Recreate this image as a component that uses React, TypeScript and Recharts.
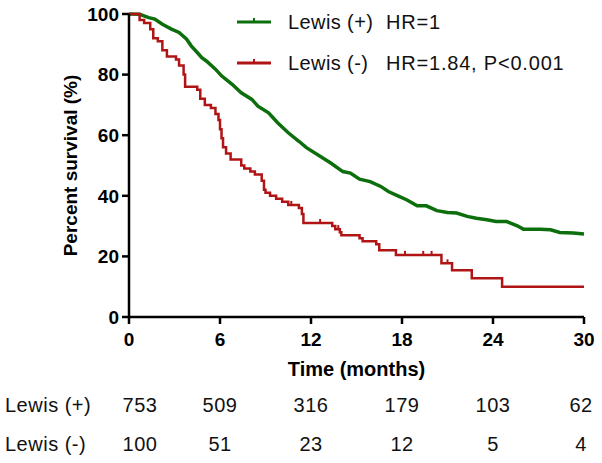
import React from 'react'
import { LineChart, Line, XAxis, YAxis } from 'recharts'

// Lewis (+) curve
const posTimes = [0, 0.7, 1.3, 1.7, 2.2, 2.8, 3.3, 3.8, 4.1, 4.5, 4.8, 5.1, 5.7, 6.1, 6.8, 7.4, 8.1, 8.5, 9.2, 9.8, 10.5, 11.2, 11.7, 13.3, 14.1, 14.6, 15.2, 15.9, 16.6, 17.1, 17.8, 18.3, 19.0, 19.6, 20.3, 21.0, 21.6, 22.3, 22.9, 23.6, 24.2, 24.9, 25.6, 26.0, 27.1, 27.8, 28.4, 29.3, 30]
const posSurv = [100, 99.9, 98.8, 98.3, 96.6, 95, 93.9, 91.7, 89.5, 87.3, 85.6, 84.5, 81.8, 79.6, 76.8, 74, 71.8, 69.6, 67.4, 64.1, 60.8, 58, 55.9, 50.8, 48, 47.5, 45.5, 44.7, 43.1, 41.4, 39.8, 38.7, 36.7, 36.7, 35.1, 34.5, 34.3, 33.2, 32.6, 32.1, 31.5, 31.5, 30.1, 29, 29, 28.8, 27.9, 27.7, 27.4]

// Lewis (-) step curve
const negTimes = [0, 0.7, 1.0, 1.4, 1.6, 1.9, 2.2, 2.5, 3.1, 3.3, 3.6, 3.7, 4.5, 4.7, 5.0, 5.4, 5.7, 5.9, 6.0, 6.1, 6.2, 6.4, 6.7, 7.4, 7.6, 8.0, 8.3, 8.75, 8.9, 9.0, 9.3, 9.7, 10.1, 10.5, 11.2, 11.4, 11.5, 13.4, 13.6, 13.9, 14.0, 15.2, 15.4, 16.3, 16.5, 17.6, 20.6, 21.3, 22.6, 24.6, 30]
const negSurv = [100, 98, 97, 95, 92, 91, 88, 86, 85, 83, 80, 76, 75, 72, 70, 69, 67, 65, 62, 59, 56, 54, 52, 50, 49, 48, 47, 45, 42, 41, 40, 39, 38, 37, 36, 34, 31, 30, 29, 28, 27, 26, 25, 24, 22, 20.5, 17.7, 15.4, 12.8, 10, 10]
const negCensored = [10.7, 12.6, 13.8, 18.2, 19.4, 19.95, 21.0]

const xTicks = [0, 6, 12, 18, 24, 30]
const yTicks = [0, 20, 40, 60, 80, 100]
const riskPos = [753, 509, 316, 179, 103, 62]
const riskNeg = [100, 51, 23, 12, 5, 4]

const GREEN = '#0c6e0c'
const RED = '#b01414'

const posData = posTimes.map((t, i) => ({ t, s: posSurv[i] }))

const survAt = (t: number) => {
  let s = negSurv[0]
  negTimes.forEach((tt, i) => {
    if (tt <= t) s = negSurv[i]
  })
  return s
}

const negData = [
  ...negTimes.map((t, i) => ({ t, s: negSurv[i], c: false })),
  ...negCensored.map((t) => ({ t, s: survAt(t), c: true })),
].sort((a, b) => a.t - b.t)

const FONT = '"Liberation Sans", Arial, sans-serif'

const censorDot = (color: string) => (p: any) => {
  if (!p.payload || !p.payload.c) return <g key={`n-${p.index}`} />
  return (
    <line
      key={`c-${p.index}`}
      x1={p.cx}
      x2={p.cx}
      y1={p.cy - 4}
      y2={p.cy}
      stroke={color}
      strokeWidth={2}
    />
  )
}

const legendItems = [
  { name: 'Lewis (+)', stat: 'HR=1', color: GREEN },
  { name: 'Lewis (-)', stat: 'HR=1.84, P<0.001', color: RED },
]

// x pixel for a month on the risk table, same range as the plot
const xPix = (t: number) => 129 + (t / 30) * 455

export default function App() {
  return (
    <div style={{ position: 'absolute', left: 0, top: 0, width: 602, height: 463, background: '#fff', fontFamily: FONT }}>
      <LineChart width={602} height={463} margin={{ top: 14, right: 18, left: 69, bottom: 116 }}>
        <XAxis
          type="number"
          dataKey="t"
          domain={[0, 30]}
          ticks={xTicks}
          allowDuplicatedCategory={false}
          height={30}
          axisLine={{ stroke: '#000', strokeWidth: 2.5 }}
          tickLine={{ stroke: '#000', strokeWidth: 2.5 }}
          tickSize={7}
          tickMargin={9}
          tick={{ fill: '#000', fontSize: 19, fontWeight: 'bold', fontFamily: FONT }}
          label={{
            value: 'Time (months)',
            position: 'bottom',
            offset: 15,
            fill: '#000',
            fontSize: 20,
            fontWeight: 'bold',
            fontFamily: FONT,
          }}
        />
        <YAxis
          type="number"
          domain={[0, 100]}
          ticks={yTicks}
          width={60}
          axisLine={{ stroke: '#000', strokeWidth: 2.5 }}
          tickLine={{ stroke: '#000', strokeWidth: 2.5 }}
          tickSize={7}
          tickMargin={3}
          tick={{ fill: '#000', fontSize: 19, fontWeight: 'bold', fontFamily: FONT }}
          label={(props: any) => {
            const vb = props.viewBox
            const cx = vb.x + 1
            const cy = vb.y + vb.height / 2
            return (
              <text
                x={cx}
                y={cy}
                transform={`rotate(-90 ${cx} ${cy})`}
                textAnchor="middle"
                dominantBaseline="central"
                fill="#000"
                fontSize={19}
                fontWeight="bold"
                fontFamily={FONT}
              >
                Percent survival (%)
              </text>
            )
          }}
        />
        <Line
          data={posData}
          dataKey="s"
          type="linear"
          stroke={GREEN}
          strokeWidth={3.5}
          dot={false}
          isAnimationActive={false}
        />
        <Line
          data={negData}
          dataKey="s"
          type="stepAfter"
          stroke={RED}
          strokeWidth={2.5}
          dot={censorDot(RED)}
          isAnimationActive={false}
        />
      </LineChart>

      {legendItems.map((it, i) => (
        <div key={it.name} style={{ position: 'absolute', left: 236, top: 8 + i * 41, height: 28, display: 'flex', alignItems: 'center', fontSize: 20, letterSpacing: 0.4, color: '#111' }}>
          <svg width={36} height={28} style={{ marginRight: 16 }}>
            <line x1={1} x2={35} y1={14} y2={14} stroke={it.color} strokeWidth={3} />
            <line x1={18} x2={18} y1={10} y2={14} stroke={it.color} strokeWidth={2} />
          </svg>
          <span style={{ width: 98 }}>{it.name}</span>
          <span style={{ letterSpacing: 0.8 }}>{it.stat}</span>
        </div>
      ))}

      {[
        { name: 'Lewis (+)', vals: riskPos, top: 394 },
        { name: 'Lewis (-)', vals: riskNeg, top: 433 },
      ].map((row) => (
        <div key={row.name}>
          <div style={{ position: 'absolute', left: 5, top: row.top, fontSize: 20, letterSpacing: 0.5, color: '#111', whiteSpace: 'nowrap' }}>{row.name}</div>
          {row.vals.map((v, i) => (
            <div
              key={i}
              style={{
                position: 'absolute',
                left: xPix(xTicks[i]) + (i === 0 ? 11 : i === 5 ? -3 : 0) - 30,
                width: 60,
                top: row.top,
                textAlign: 'center',
                fontSize: 20,
                letterSpacing: 0.5,
                color: '#111',
              }}
            >
              {v}
            </div>
          ))}
        </div>
      ))}
    </div>
  )
}
